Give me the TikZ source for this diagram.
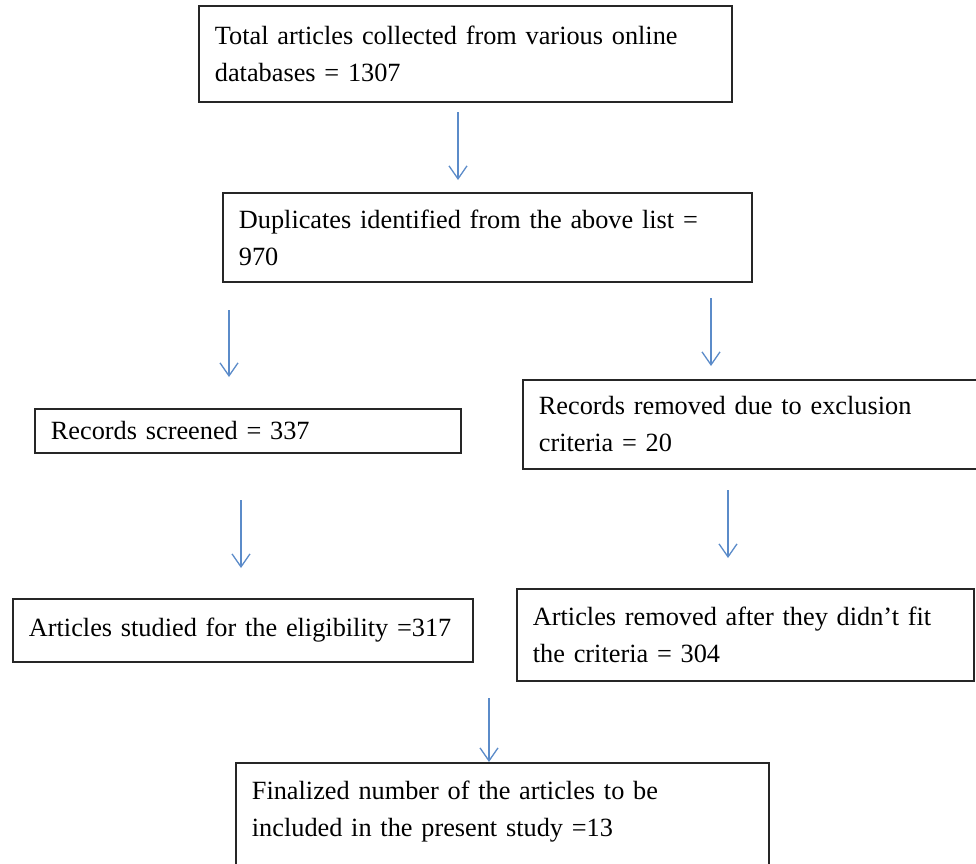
\documentclass[tikz,border=0pt]{standalone}
\usepackage{fontspec}
\setmainfont{Liberation Serif}
\usetikzlibrary{arrows.meta}
\definecolor{arrblue}{HTML}{5B8BC9}
\begin{document}
\begin{tikzpicture}[x=1pt, y=-1pt,
    box/.style={draw=black!85, line width=1.8pt, anchor=north west, align=left,
        inner xsep=16pt, font=\fontsize{26.3}{37}\selectfont},
    arr/.style={draw=arrblue, line width=1.3pt, -{Straight Barb[length=13pt,width=18pt]}}]
    % Cornice della figura
    \useasboundingbox (0,0) rectangle (976,863);
    \clip (0,0) rectangle (976,863);

    % Scatole
    \node[box, minimum width=533pt, minimum height=96pt, text width=501pt] (total) at (198,5)
        {Total articles collected from various online\\databases = 1307};
    \node[box, minimum width=529pt, minimum height=89pt, text width=497pt] (dupl) at (222,192)
        {Duplicates identified from the above list =\\970};
    \node[box, minimum width=426pt, minimum height=44pt, text width=394pt] (screen) at (34,408)
        {Records screened = 337};
    \node[box, minimum width=470pt, minimum height=89pt, text width=438pt] (excl) at (522,379)
        {Records removed due to exclusion\\criteria = 20};
    \node[box, minimum width=460pt, minimum height=63pt, text width=428pt] (elig) at (12,598)
        {Articles studied for the eligibility =317};
    \node[box, minimum width=457pt, minimum height=92pt, text width=425pt] (fit) at (516,588)
        {Articles removed after they didn’t fit\\the criteria = 304};
    \node[box, minimum width=533pt, minimum height=128pt, text width=501pt] (final) at (235,762)
        {Finalized number of the articles to be\\included in the present study =13\\\mbox{}};

    % Frecce
    \coordinate (a1s) at (458,112); \coordinate (a1e) at (458,180);
    \coordinate (a2s) at (229,310); \coordinate (a2e) at (229,377);
    \coordinate (a3s) at (711,298); \coordinate (a3e) at (711,366);
    \coordinate (a4s) at (241,500); \coordinate (a4e) at (241,568);
    \coordinate (a5s) at (728,490); \coordinate (a5e) at (728,558);
    \coordinate (a6s) at (489,698);
    \draw[arr] (a1s) -- (a1e);
    \draw[arr] (a2s) -- (a2e);
    \draw[arr] (a3s) -- (a3e);
    \draw[arr] (a4s) -- (a4e);
    \draw[arr] (a5s) -- (a5e);
    \draw[arr] (a6s) -- (a6s |- final.north);
\end{tikzpicture}
\end{document}
